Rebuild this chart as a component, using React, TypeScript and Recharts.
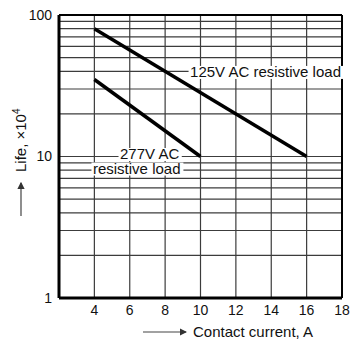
import {
  LineChart,
  Line,
  XAxis,
  YAxis,
  ReferenceLine,
  ReferenceDot
} from "recharts";

// life curves (current in A, life in x10^4 operations)
const current125 = [4, 16];
const life125 = [80, 10];
const current277 = [4, 10];
const life277 = [35, 10];

const xTicks = [4, 6, 8, 10, 12, 14, 16, 18];
const yTicks = [1, 10, 100];
const xGrid = [4, 6, 8, 10, 12, 14, 16];
const yGrid = [2, 3, 4, 5, 6, 7, 8, 9, 10, 20, 30, 40, 50, 60, 70, 80, 90];

// in-plot captions, anchored at the start of their baseline
const labels = [
  { x: 9.41, y: 36.5, text: "125V AC resistive load" },
  { x: 5.45, y: 9.6, text: "277V AC" },
  { x: 3.92, y: 7.58, text: "resistive load" }
];

const series125 = current125.map((c, i) => ({ current: c, life: life125[i] }));
const series277 = current277.map((c, i) => ({ current: c, life: life277[i] }));

const FONT = "'Liberation Sans', Arial, Helvetica, sans-serif";

// rough Arial advance widths, in em
function textWidth(s: string, size: number) {
  let w = 0;
  for (const ch of s) {
    if (/[0-9]/.test(ch)) w += 0.556;
    else if (/[A-Z]/.test(ch)) w += 0.69;
    else if (ch === " ") w += 0.278;
    else if ("iljtf,".includes(ch)) w += 0.25;
    else if (ch === "r") w += 0.333;
    else w += 0.54;
  }
  return w * size;
}

function LabelBox(props: any) {
  const { cx, cy, text } = props;
  const w = textWidth(text, 15);
  return (
    <g>
      <rect x={cx - 1.5} y={cy - 11} width={w + 3} height={13} fill="#fff" />
      <text x={cx} y={cy} fontSize={15} fontFamily={FONT} fill="#111">
        {text}
      </text>
    </g>
  );
}

export default function App() {
  return (
    <div style={{ position: "absolute", left: 0, top: 0, width: 354, height: 345, background: "#fff" }}>
      <LineChart
        width={354}
        height={345}
        margin={{ top: 15, right: 12, left: 0, bottom: 17 }}
      >
        <XAxis
          type="number"
          dataKey="current"
          domain={[2, 18]}
          ticks={xTicks}
          allowDataOverflow
          height={30}
          tickSize={0}
          tickMargin={7}
          axisLine={{ stroke: "#000", strokeWidth: 3 }}
          tick={{ fontSize: 14, fill: "#111", fontFamily: FONT }}
        />
        <YAxis
          type="number"
          scale="log"
          domain={[1, 100]}
          ticks={yTicks}
          allowDataOverflow
          width={59}
          tickSize={0}
          tickMargin={7}
          axisLine={{ stroke: "#000", strokeWidth: 3 }}
          tick={{ fontSize: 14, fill: "#111", fontFamily: FONT }}
        />
        {yGrid.map((v) => (
          <ReferenceLine key={"h" + v} y={v} stroke="#3c3c3c" strokeWidth={1.2} />
        ))}
        {xGrid.map((v) => (
          <ReferenceLine key={"v" + v} x={v} stroke="#3c3c3c" strokeWidth={1.2} />
        ))}
        <ReferenceLine y={100} stroke="#000" strokeWidth={2} />
        <ReferenceLine x={18} stroke="#000" strokeWidth={2} />
        {labels.map((l) => (
          <ReferenceDot
            key={l.text}
            x={l.x}
            y={l.y}
            r={0}
            shape={(p: any) => <LabelBox {...p} text={l.text} />}
          />
        ))}
        <Line
          data={series125}
          dataKey="life"
          stroke="#000"
          strokeWidth={3.5}
          dot={false}
          isAnimationActive={false}
        />
        <Line
          data={series277}
          dataKey="life"
          stroke="#000"
          strokeWidth={3.5}
          dot={false}
          isAnimationActive={false}
        />
      </LineChart>
      <svg
        width={354}
        height={345}
        style={{ position: "absolute", left: 0, top: 0, pointerEvents: "none" }}
      >
        <defs>
          <marker id="ah" markerWidth="6" markerHeight="6" refX="5" refY="3" orient="auto">
            <path d="M0,0 L6,3 L0,6 z" fill="#333" />
          </marker>
        </defs>
        <text
          transform="translate(26,172) rotate(-90)"
          fontSize={15}
          fontFamily={FONT}
          fill="#111"
        >
          Life, ×10<tspan dy={-6} fontSize={10}>4</tspan>
        </text>
        <line x1={21} y1={216} x2={21} y2={183} stroke="#444" strokeWidth={1.2} markerEnd="url(#ah)" />
        <line x1={143} y1={332} x2={186} y2={332} stroke="#444" strokeWidth={1.2} markerEnd="url(#ah)" />
        <text x={193} y={337} fontSize={15} fontFamily={FONT} fill="#111">
          Contact current, A
        </text>
      </svg>
    </div>
  );
}
